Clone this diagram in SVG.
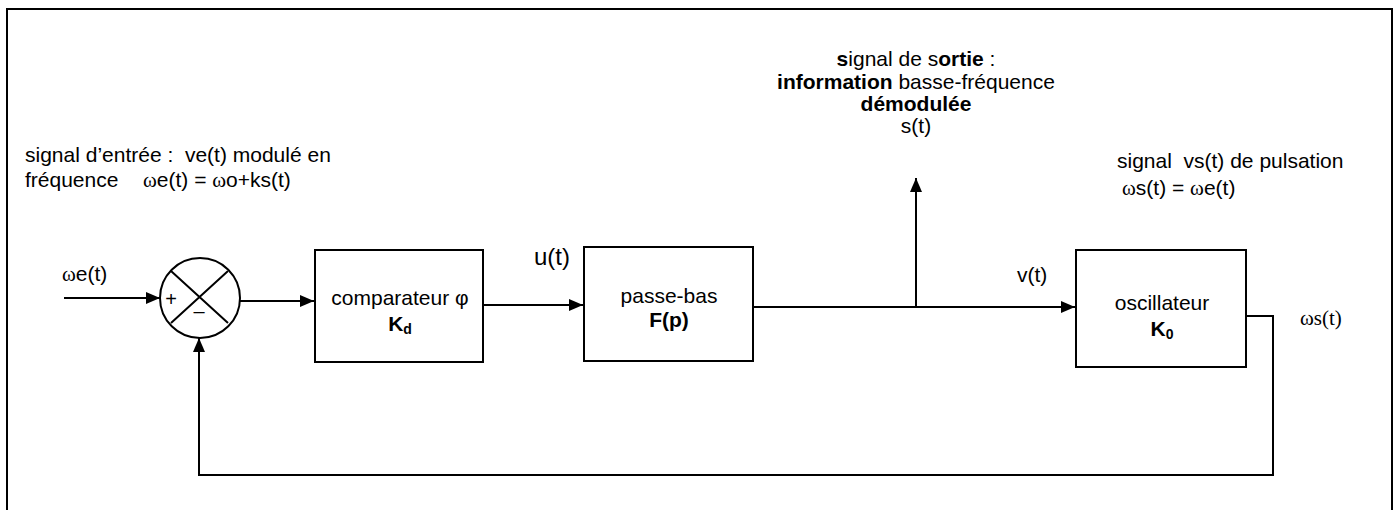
<svg xmlns="http://www.w3.org/2000/svg" width="1398" height="510" viewBox="0 0 1398 510">
<style>
text{font-family:"Liberation Sans",Arial,sans-serif;font-size:21px;fill:#000}
.b{font-weight:bold}
.w{font-family:"Liberation Serif","Times New Roman",serif}
.serif{font-family:"Liberation Serif","Times New Roman",serif}
.box{fill:#fff;stroke:#000;stroke-width:2}
.ln{fill:none;stroke:#000;stroke-width:2}
.sub{font-size:14px;font-weight:bold}
</style>
<defs>
<marker id="arr" markerUnits="userSpaceOnUse" markerWidth="14" markerHeight="12" refX="14" refY="6" orient="auto">
<path d="M0,0 L14,6 L0,12 z" fill="#000"/>
</marker>
</defs>
<rect width="1398" height="510" fill="#fff"/>
<path d="M7,512 V9 H1392 V512" fill="none" stroke="#000" stroke-width="2"/>

<g id="labels">
<text x="25" y="162" xml:space="preserve">signal d’entrée :  ve(t) modulé en</text>
<text x="25" y="187">fréquence<tspan x="143"><tspan class="w">ω</tspan>e(t) = <tspan class="w">ω</tspan>o+ks(t)</tspan></text>
<text x="62" y="281"><tspan class="w">ω</tspan>e(t)</text>
<text x="916" y="66" text-anchor="middle"><tspan class="b">s</tspan>ignal de s<tspan class="b">ortie</tspan> :</text>
<text x="916" y="89" text-anchor="middle"><tspan class="b">information</tspan> basse-fréquence</text>
<text x="916" y="111" text-anchor="middle" class="b">démodulée</text>
<text x="916" y="133" text-anchor="middle">s(t)</text>
<text x="1117" y="168" xml:space="preserve">signal  vs(t) de pulsation</text>
<text x="1122" y="195"><tspan class="w">ω</tspan>s(t) = <tspan class="w">ω</tspan>e(t)</text>
<text x="534" y="265" style="font-size:24px">u(t)</text>
<text x="1017" y="282">v(t)</text>
<text x="1300" y="325" class="serif">ωs(t)</text>
</g>

<g id="sum">
<circle cx="200" cy="298" r="40" fill="#fff" stroke="#000" stroke-width="2"/>
<path class="ln" d="M171,271 L228,323 M228,271 L171,323"/>
<text x="171" y="306" text-anchor="middle" style="font-size:20px">+</text>
<text x="199" y="318" text-anchor="middle" style="font-size:20px">–</text>
</g>

<g id="comparateur">
<rect class="box" x="315" y="250" width="168" height="112"/>
<text x="400" y="305" text-anchor="middle">comparateur φ</text>
<text x="400" y="331" text-anchor="middle" class="b">K<tspan class="sub" dy="3">d</tspan></text>
</g>

<g id="passe-bas">
<rect class="box" x="584" y="247" width="169" height="114"/>
<text x="669" y="303" text-anchor="middle">passe-bas</text>
<text x="669" y="327" text-anchor="middle" class="b">F(p)</text>
</g>

<g id="oscillateur">
<rect class="box" x="1076" y="250" width="170" height="117"/>
<text x="1162" y="310" text-anchor="middle">oscillateur</text>
<text x="1162" y="336" text-anchor="middle" class="b">K<tspan class="sub" dy="3">0</tspan></text>
</g>

<g id="connectors">
<line class="ln" x1="64" y1="298" x2="160" y2="298" marker-end="url(#arr)"/>
<line class="ln" x1="240" y1="301" x2="314" y2="301" marker-end="url(#arr)"/>
<line class="ln" x1="483" y1="305" x2="583" y2="305" marker-end="url(#arr)"/>
<line class="ln" x1="753" y1="307" x2="1075" y2="307" marker-end="url(#arr)"/>
<line class="ln" x1="916" y1="307" x2="916" y2="178" marker-end="url(#arr)"/>
<path class="ln" d="M1246,316 H1273 V475 H199 V338" marker-end="url(#arr)"/>
</g>
</svg>
